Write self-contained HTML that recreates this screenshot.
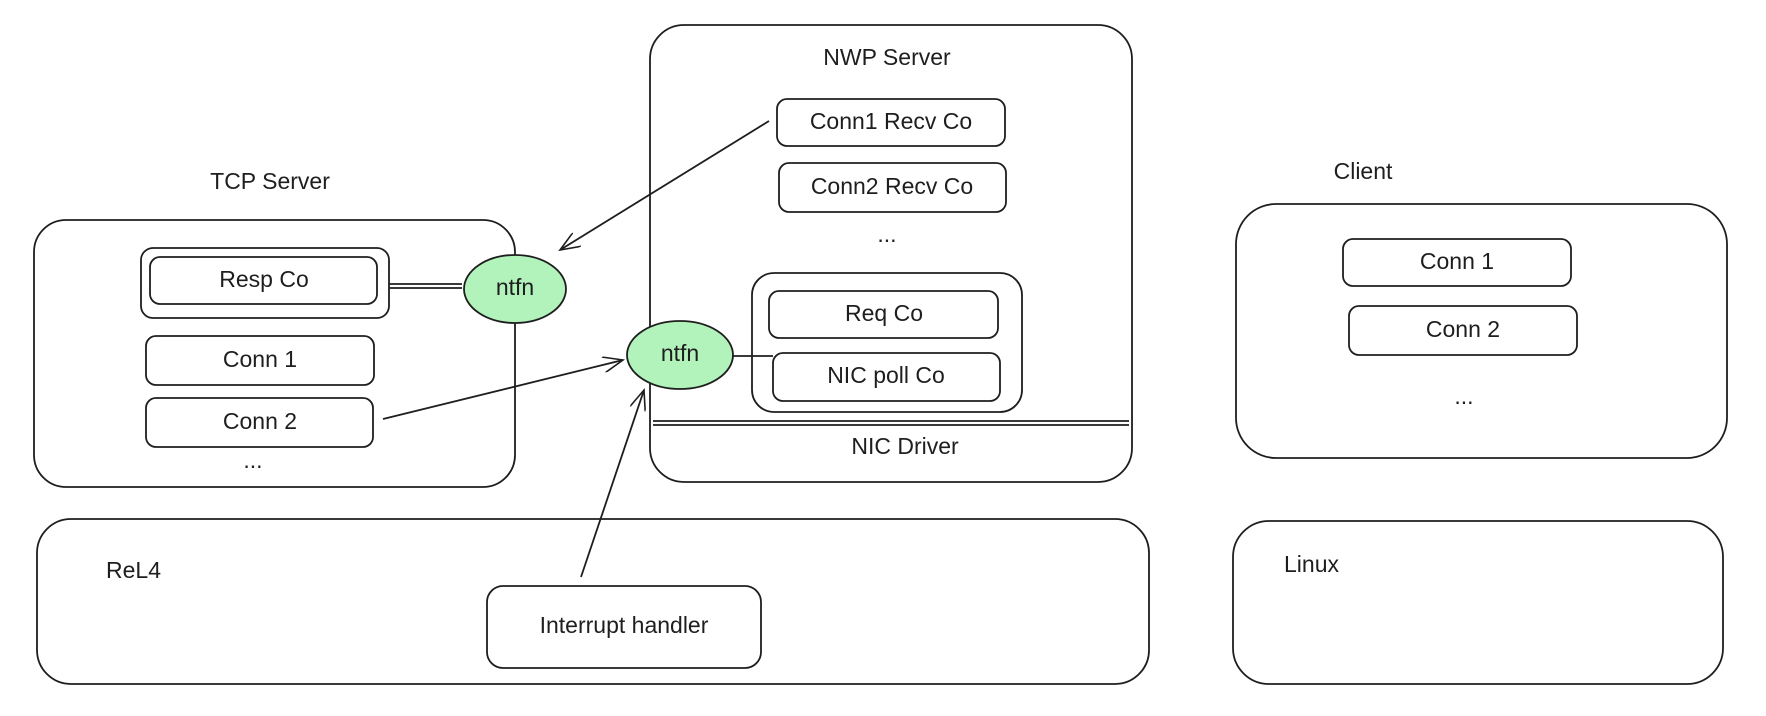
<!DOCTYPE html>
<html><head><meta charset="utf-8"><style>
html,body{margin:0;padding:0;background:#fff;}
svg{display:block}
text{font-family:"Liberation Sans",sans-serif;font-size:23px;fill:#1e1e1e;text-anchor:middle;dominant-baseline:middle}
</style></head><body>
<svg width="1766" height="716" viewBox="0 0 1766 716" xmlns="http://www.w3.org/2000/svg">
<defs><marker id="a" markerWidth="22" markerHeight="16" refX="20" refY="8" orient="auto" markerUnits="userSpaceOnUse"><path d="M0,0 L20,8 L0,16" fill="none" stroke="#1e1e1e" stroke-width="1.6"/></marker></defs>
<g fill="none" stroke="#1e1e1e" stroke-width="1.8">
<!-- TCP server -->
<rect x="34" y="220" width="481" height="267" rx="32"/>
<rect x="141" y="248" width="248" height="70" rx="12"/>
<rect x="150" y="257" width="227" height="47" rx="10"/>
<rect x="146" y="336" width="228" height="49" rx="10"/>
<rect x="146" y="398" width="227" height="49" rx="10"/>
<line x1="389" y1="284" x2="462" y2="284"/><line x1="389" y1="288" x2="462" y2="288"/>
<!-- NWP -->
<rect x="650" y="25" width="482" height="457" rx="34"/>
<rect x="777" y="99" width="228" height="47" rx="10"/>
<rect x="779" y="163" width="227" height="49" rx="10"/>
<rect x="752" y="273" width="270" height="139" rx="22"/>
<rect x="769" y="291" width="229" height="47" rx="10"/>
<rect x="773" y="353" width="227" height="48" rx="10"/>
<line x1="732" y1="356" x2="773" y2="356"/>
<line x1="653" y1="421" x2="1129" y2="421"/><line x1="653" y1="425" x2="1129" y2="425"/>
<!-- ReL4 -->
<rect x="37" y="519" width="1112" height="165" rx="34"/>
<rect x="487" y="586" width="274" height="82" rx="16"/>
<!-- Client -->
<rect x="1236" y="204" width="491" height="254" rx="40"/>
<rect x="1343" y="239" width="228" height="47" rx="10"/>
<rect x="1349" y="306" width="228" height="49" rx="10"/>
<rect x="1233" y="521" width="490" height="163" rx="36"/>
<!-- arrows -->
<line x1="769" y1="121" x2="560" y2="250" marker-end="url(#a)"/>
<line x1="383" y1="419" x2="623" y2="360" marker-end="url(#a)"/>
<line x1="581" y1="577" x2="644" y2="390" marker-end="url(#a)"/>
</g>
<ellipse cx="515" cy="289" rx="51" ry="34" fill="#b2f2bb" stroke="#1e1e1e" stroke-width="1.8"/>
<ellipse cx="680" cy="355" rx="53" ry="34" fill="#b2f2bb" stroke="#1e1e1e" stroke-width="1.8"/>
<text x="270" y="183">TCP Server</text>
<text x="264" y="281">Resp Co</text>
<text x="260" y="361">Conn 1</text>
<text x="260" y="423">Conn 2</text>
<text x="253" y="462">...</text>
<text x="515" y="289">ntfn</text>
<text x="680" y="355">ntfn</text>
<text x="887" y="59">NWP Server</text>
<text x="891" y="123">Conn1 Recv Co</text>
<text x="892" y="188">Conn2 Recv Co</text>
<text x="887" y="236">...</text>
<text x="884" y="315">Req Co</text>
<text x="886" y="377">NIC poll Co</text>
<text x="905" y="448">NIC Driver</text>
<text x="106" y="572" style="text-anchor:start">ReL4</text>
<text x="624" y="627">Interrupt handler</text>
<text x="1363" y="173">Client</text>
<text x="1457" y="263">Conn 1</text>
<text x="1463" y="331">Conn 2</text>
<text x="1464" y="398">...</text>
<text x="1284" y="566" style="text-anchor:start">Linux</text>
</svg>
</body></html>
